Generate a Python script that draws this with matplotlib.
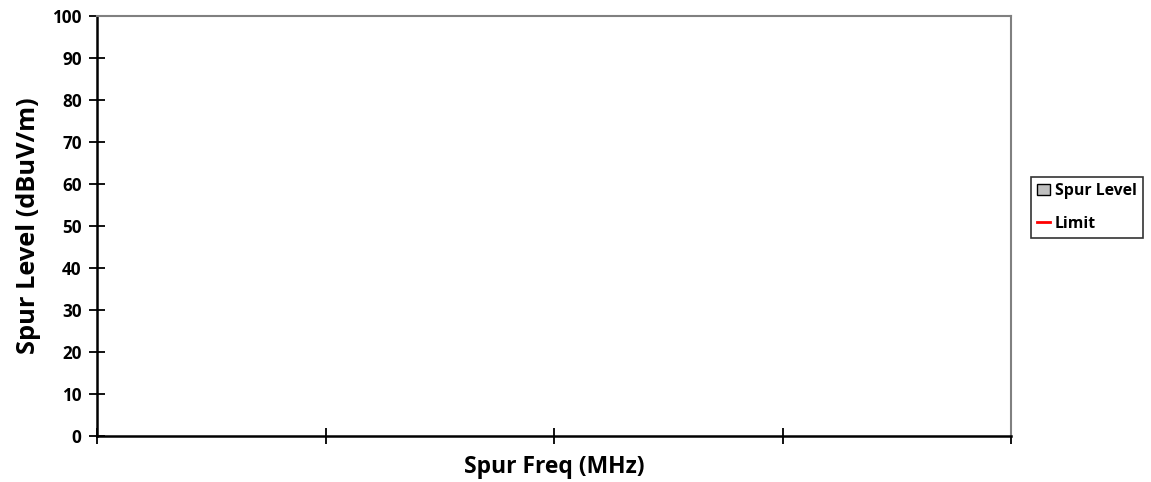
import numpy as np
import matplotlib.pyplot as plt
from matplotlib.lines import Line2D
from matplotlib.patches import Patch

plt.rcParams['font.family'] = ['Open Sans', 'DejaVu Sans']
plt.rcParams['font.weight'] = 'bold'

# chart data: four frequency bins, no measured spurs
categories = ['', '', '', '']
spur_level = [np.nan, np.nan, np.nan, np.nan]
limit = [np.nan, np.nan, np.nan, np.nan]
y_ticks = [0, 10, 20, 30, 40, 50, 60, 70, 80, 90, 100]

fig = plt.figure(figsize=(11.51, 4.82), dpi=100)
ax = fig.add_axes([97/1151, 1-436/482, (1011-97)/1151, (436-16)/482])

x = np.arange(len(categories)) + 0.5
ax.bar(x, spur_level, width=0.6, color='#c0c0c0', edgecolor='black')
ax.plot(x, limit, color='red', lw=2)

ax.set_xlim(0, len(categories))
ax.set_ylim(0, 100)
ax.set_yticks(y_ticks)
ax.set_xticks(np.arange(len(categories) + 1))
ax.set_xticklabels([])
ax.tick_params(axis='both', direction='inout', length=12, width=1.3, labelsize=12.3, colors='black')
ax.tick_params(axis='y', pad=5)

for s in ['left', 'bottom']:
    ax.spines[s].set_color('black')
    ax.spines[s].set_linewidth(1.8)
for s in ['top', 'right']:
    ax.spines[s].set_color('#808080')
    ax.spines[s].set_linewidth(1.5)

ax.set_ylabel('Spur Level (dBuV/m)', fontsize=18.3, fontweight='bold', labelpad=8)
ax.set_xlabel('Spur Freq (MHz)', fontsize=16.5, fontweight='bold', labelpad=4)

handles = [Patch(facecolor='#c0c0c0', edgecolor='black', label='Spur Level'),
           Line2D([0], [0], color='red', lw=2, label='Limit')]
leg = fig.legend(handles=handles, loc='upper left', bbox_to_anchor=(1031/1151, 1-177/482),
                 frameon=True, fancybox=False, fontsize=11.4, handlelength=0.8,
                 handletextpad=0.3, borderpad=0.4, labelspacing=1.05, borderaxespad=0)
leg.get_frame().set_edgecolor('black')
leg.get_frame().set_linewidth(1.2)
for t in leg.get_texts():
    t.set_fontweight('bold')

fig.savefig('out.png', dpi=100)
